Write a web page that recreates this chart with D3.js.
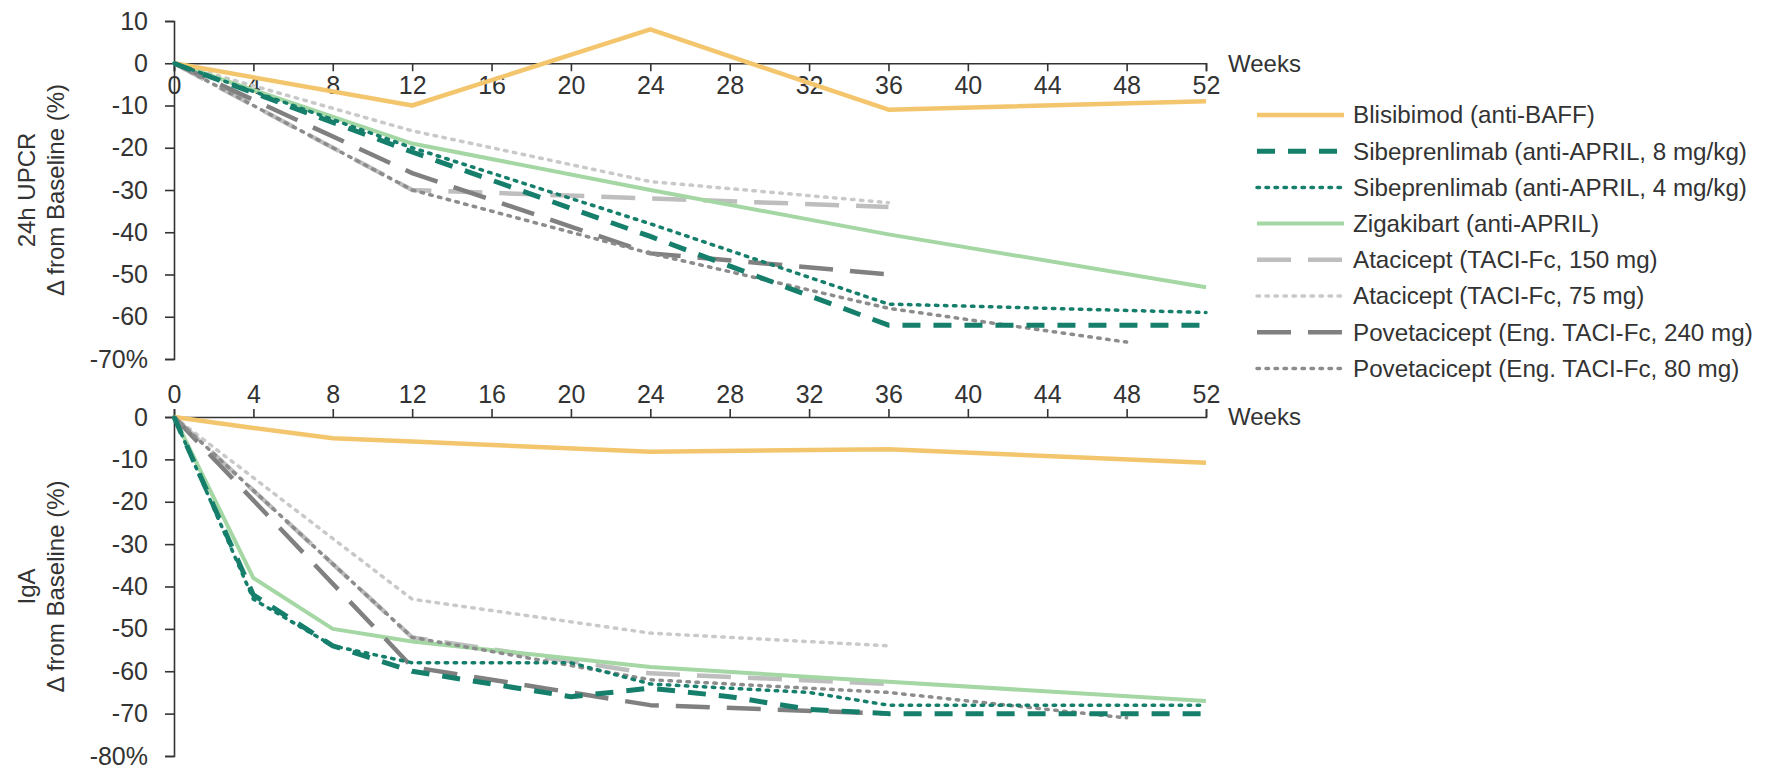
<!DOCTYPE html>
<html>
<head>
<meta charset="utf-8">
<script src="https://cdn.jsdelivr.net/npm/d3@7"></script>
<style>
  html, body { margin: 0; padding: 0; background: #ffffff; }
  svg { display: block; }
  text { font-family: "Liberation Sans", Arial, sans-serif; fill: #333333; }
</style>
</head>
<body>
<svg id="chart" width="1774" height="769"></svg>
<script>
// ---------- data ----------
const weekTicks = [0, 4, 8, 12, 16, 20, 24, 28, 32, 36, 40, 44, 48, 52];
const upcrTicks = [10, 0, -10, -20, -30, -40, -50, -60, -70];
const igaTicks = [0, -10, -20, -30, -40, -50, -60, -70, -80];

const seriesNames = [
  "Blisibimod (anti-BAFF)",
  "Sibeprenlimab (anti-APRIL, 8 mg/kg)",
  "Sibeprenlimab (anti-APRIL, 4 mg/kg)",
  "Zigakibart (anti-APRIL)",
  "Atacicept (TACI-Fc, 150 mg)",
  "Atacicept (TACI-Fc, 75 mg)",
  "Povetacicept (Eng. TACI-Fc, 240 mg)",
  "Povetacicept (Eng. TACI-Fc, 80 mg)"
];

// 24h UPCR, % change from baseline: [week, value]
const upcrBlisibimod   = [[0, 0], [12, -10], [24, 8], [36, -11], [52, -9]];
const upcrSibep8       = [[0, 0], [12, -21], [24, -41], [36, -62], [52, -62]];
const upcrSibep4       = [[0, 0], [12, -20], [24, -38], [36, -57], [52, -59]];
const upcrZigakibart   = [[0, 0], [12, -19], [24, -30], [36, -40.5], [52, -53]];
const upcrAtaci150     = [[0, 0], [12, -30], [24, -32], [36, -34]];
const upcrAtaci75      = [[0, 0], [12, -16], [24, -28], [36, -33]];
const upcrPovet240     = [[0, 0], [12, -26], [24, -45], [36, -50]];
const upcrPovet80      = [[0, 0], [12, -30], [24, -45], [36, -58], [48, -66]];

// IgA, % change from baseline: [week, value]
const igaBlisibimod    = [[0, 0], [4, -2.6], [8, -5], [12, -5.8], [24, -8.2], [36, -7.6], [52, -10.8]];
const igaSibep8        = [[0, 0], [4, -42], [8, -54], [12, -60], [20, -66], [24, -64], [28, -66], [32, -69], [36, -70], [52, -70]];
const igaSibep4        = [[0, 0], [4, -43], [8, -54], [12, -58], [20, -58], [24, -63], [32, -65], [36, -68], [52, -68]];
const igaZigakibart    = [[0, 0], [4, -38], [8, -50], [12, -53], [24, -59], [36, -62.5], [52, -67]];
const igaAtaci150      = [[0, 0], [12, -52], [24, -60.5], [36, -63]];
const igaAtaci75       = [[0, 0], [12, -43], [24, -51], [36, -54]];
const igaPovet240      = [[0, 0], [12, -59], [24, -68], [36, -70]];
const igaPovet80       = [[0, 0], [12, -52], [24, -62], [36, -65], [48, -71]];

const upcrData = [upcrBlisibimod, upcrSibep8, upcrSibep4, upcrZigakibart, upcrAtaci150, upcrAtaci75, upcrPovet240, upcrPovet80];
const igaData  = [igaBlisibimod, igaSibep8, igaSibep4, igaZigakibart, igaAtaci150, igaAtaci75, igaPovet240, igaPovet80];

// ---------- styles ----------
const DOT = "2.5,6.5";
const styles = [
  { color: "#F3C66E", width: 4.5, dash: null },
  { color: "#157F6C", width: 5,   dash: "18,13" },
  { color: "#157F6C", width: 3.5, dash: DOT },
  { color: "#A4D7A4", width: 4,   dash: null },
  { color: "#BEBEBE", width: 4.5, dash: "34,17" },
  { color: "#C9C9C9", width: 3.5, dash: DOT },
  { color: "#808080", width: 4.5, dash: "34,17" },
  { color: "#8C8C8C", width: 3.5, dash: DOT }
];

// ---------- layout ----------
const svg = d3.select("#chart");
svg.append("rect").attr("width", 1774).attr("height", 769).attr("fill", "#fff");

const x = d3.scaleLinear().domain([0, 52]).range([174, 1206]);
const yTop = d3.scaleLinear().domain([-70, 10]).range([359, 21]);
const yBot = d3.scaleLinear().domain([-80, 0]).range([756, 417]);

const fmtY = (last) => d => (d === last ? d + "%" : String(d)).replace("\u2212", "-");

function styleAxis(g) {
  g.selectAll("path.domain").attr("stroke", "#333").attr("stroke-width", 1.6);
  g.selectAll(".tick line").attr("stroke", "#333").attr("stroke-width", 1.6);
  g.selectAll("text").attr("font-size", 25).attr("fill", "#333")
    .attr("font-family", "'Liberation Sans', Arial, sans-serif");
}

// top chart axes
const gTopX = svg.append("g").attr("transform", `translate(0,${yTop(0)})`)
  .call(d3.axisBottom(x).tickValues(weekTicks).tickSize(8).tickSizeOuter(8).tickPadding(5)
    .tickFormat(d => String(d)));
styleAxis(gTopX);

const gTopY = svg.append("g").attr("transform", `translate(${x(0)},0)`)
  .call(d3.axisLeft(yTop).tickValues(upcrTicks).tickSize(9).tickSizeOuter(9).tickPadding(17)
    .tickFormat(fmtY(-70)));
styleAxis(gTopY);

// bottom chart axes
const gBotX = svg.append("g").attr("transform", `translate(0,${yBot(0)})`)
  .call(d3.axisTop(x).tickValues(weekTicks).tickSize(8).tickSizeOuter(8).tickPadding(6)
    .tickFormat(d => String(d)));
styleAxis(gBotX);

const gBotY = svg.append("g").attr("transform", `translate(${x(0)},0)`)
  .call(d3.axisLeft(yBot).tickValues(igaTicks).tickSize(9).tickSizeOuter(9).tickPadding(17)
    .tickFormat(fmtY(-80)));
styleAxis(gBotY);

// "Weeks" labels
svg.append("text").attr("x", 1228).attr("y", yTop(0)).attr("dy", "0.35em")
  .attr("font-size", 24).text("Weeks");
svg.append("text").attr("x", 1228).attr("y", yBot(0)).attr("dy", "0.35em")
  .attr("font-size", 24).text("Weeks");

// Y axis titles
function yTitle(lines, cy) {
  const t = svg.append("text")
    .attr("transform", `translate(41,${cy}) rotate(-90)`)
    .attr("text-anchor", "middle").attr("font-size", 24);
  t.append("tspan").attr("x", 0).attr("dy", "-0.25em").text(lines[0]);
  t.append("tspan").attr("x", 0).attr("dy", "1.2em").text(lines[1]);
}
yTitle(["24h UPCR", "\u0394 from Baseline (%)"], (yTop(10) + yTop(-70)) / 2);
yTitle(["IgA", "\u0394 from Baseline (%)"], (yBot(0) + yBot(-80)) / 2);

// lines
function drawSeries(data, y) {
  const line = d3.line().x(d => x(d[0])).y(d => y(d[1]));
  const g = svg.append("g").attr("fill", "none");
  const order = [5, 4, 3, 0, 6, 7, 2, 1];
  order.forEach(i => {
    const s = styles[i];
    g.append("path").datum(data[i])
      .attr("d", line)
      .attr("stroke", s.color)
      .attr("stroke-width", s.width)
      .attr("stroke-dasharray", s.dash)
      .attr("stroke-linecap", s.dash === DOT ? "round" : "butt")
      .attr("stroke-linejoin", "round");
  });
}
drawSeries(upcrData, yTop);
drawSeries(igaData, yBot);

// legend
const legend = svg.append("g");
seriesNames.forEach((name, i) => {
  const ly = 115 + i * 36.2;
  const s = styles[i];
  legend.append("line")
    .attr("x1", 1257).attr("x2", 1344).attr("y1", ly).attr("y2", ly)
    .attr("stroke", s.color).attr("stroke-width", s.width)
    .attr("stroke-dasharray", s.dash)
    .attr("stroke-linecap", s.dash === DOT ? "round" : "butt");
  legend.append("text").attr("x", 1353).attr("y", ly).attr("dy", "0.35em")
    .attr("font-size", 24.2).text(name);
});
</script>
</body>
</html>
